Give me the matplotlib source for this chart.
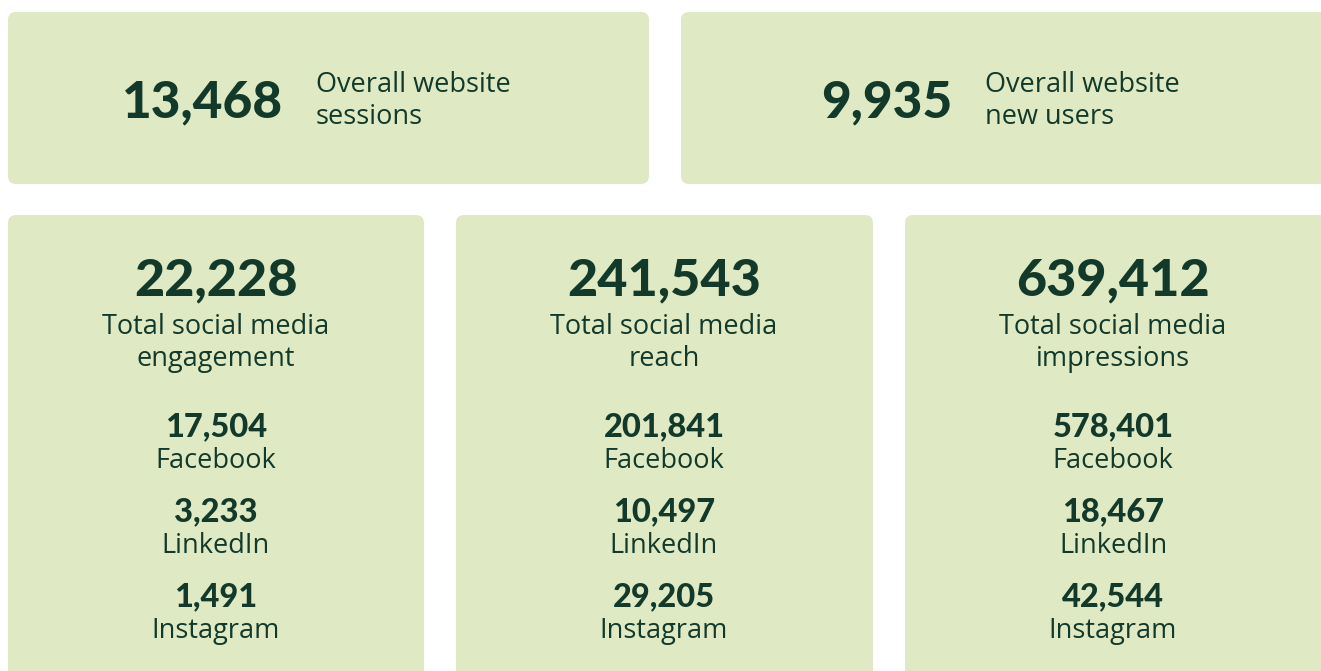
#!/usr/bin/env python3

"""
KPI summary cards: website traffic and social media totals.
"""

import matplotlib.pyplot as plt
from matplotlib.patches import FancyBboxPatch

# data
top_values = ["13,468", "9,935"]
top_labels = [["Overall website", "sessions"], ["Overall website", "new users"]]

card_totals = ["22,228", "241,543", "639,412"]
card_titles = [["Total social media", "engagement"],
               ["Total social media", "reach"],
               ["Total social media", "impressions"]]
platforms = ["Facebook", "LinkedIn", "Instagram"]
platform_values = [["17,504", "3,233", "1,491"],
                   ["201,841", "10,497", "29,205"],
                   ["578,401", "18,467", "42,544"]]

# style
FILL = "#dfeac4"
INK = "#12392a"
NUM_FONT = "Lato"
TXT_FONT = "Open Sans"

W, H = 1321, 671


def card(ax, x0, y0, x1, y1):
    """ Rounded background card in pixel coordinates. """
    box = FancyBboxPatch((x0, y0), x1 - x0, y1 - y0,
                         boxstyle="round,pad=0,rounding_size=8",
                         facecolor=FILL, edgecolor="none")
    ax.add_patch(box)


def main():

    fig = plt.figure(figsize=(W / 100, H / 100), dpi=100)
    ax = fig.add_axes([0, 0, 1, 1])
    ax.set_xlim(0, W)
    ax.set_ylim(H, 0)
    ax.axis("off")

    # top cards
    top_boxes = [(8, 12, 649, 184), (681, 12, 1340, 184)]
    num_right = [283, 952]
    for i, (x0, y0, x1, y1) in enumerate(top_boxes):
        card(ax, x0, y0, x1, y1)
        ax.text(num_right[i], 117, top_values[i], ha="right", va="baseline",
                fontsize=37, fontweight="black", color=INK, family=NUM_FONT)
        for j, line in enumerate(top_labels[i]):
            ax.text(num_right[i] + 33, 92 + 32 * j, line, ha="left", va="baseline",
                    fontsize=19.5, color=INK, family=TXT_FONT)

    # bottom cards
    bottom_boxes = [(8, 215, 424, 700), (456, 215, 873, 700), (905, 215, 1340, 700)]
    centers = [216, 664, 1113]
    for i, (x0, y0, x1, y1) in enumerate(bottom_boxes):
        card(ax, x0, y0, x1, y1)
        cx = centers[i]
        ax.text(cx, 295, card_totals[i], ha="center", va="baseline",
                fontsize=37.5, fontweight="black", color=INK, family=NUM_FONT)
        for j, line in enumerate(card_titles[i]):
            ax.text(cx, 334 + 32 * j, line, ha="center", va="baseline",
                    fontsize=19.5, color=INK, family=TXT_FONT)
        for k, name in enumerate(platforms):
            ax.text(cx, 436 + 85 * k, platform_values[i][k], ha="center", va="baseline",
                    fontsize=23.5, fontweight="black", color=INK, family=NUM_FONT)
            ax.text(cx, 468 + 85 * k, name, ha="center", va="baseline",
                    fontsize=19.5, color=INK, family=TXT_FONT)

    plt.savefig("out.png", dpi=100, facecolor="white")


if __name__ == "__main__":
    main()
